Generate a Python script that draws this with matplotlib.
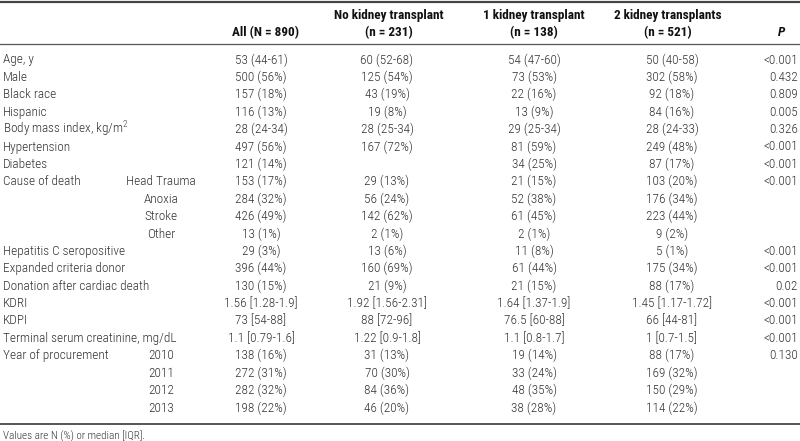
import matplotlib
matplotlib.use("Agg")
import matplotlib.pyplot as plt

plt.rcParams['font.family'] = ['Roboto Condensed', 'DejaVu Sans']
plt.rcParams['mathtext.default'] = 'regular'

# table content
row_labels = ['Age, y', 'Male', 'Black race', 'Hispanic', 'Body mass index, kg/m$^2$',
              'Hypertension', 'Diabetes', 'Cause of death', '', '', '',
              'Hepatitis C seropositive', 'Expanded criteria donor',
              'Donation after cardiac death', 'KDRI', 'KDPI',
              'Terminal serum creatinine, mg/dL', 'Year of procurement', '', '', '']
sub_labels = ['', '', '', '', '', '', '', 'Head Trauma', 'Anoxia', 'Stroke', 'Other',
              '', '', '', '', '', '', '2010', '2011', '2012', '2013']
col_all = ['53 (44-61)', '500 (56%)', '157 (18%)', '116 (13%)', '28 (24-34)', '497 (56%)',
           '121 (14%)', '153 (17%)', '284 (32%)', '426 (49%)', '13 (1%)', '29 (3%)',
           '396 (44%)', '130 (15%)', '1.56 [1.28-1.9]', '73 [54-88]', '1.1 [0.79-1.6]',
           '138 (16%)', '272 (31%)', '282 (32%)', '198 (22%)']
col_none = ['60 (52-68)', '125 (54%)', '43 (19%)', '19 (8%)', '28 (25-34)', '167 (72%)',
            '', '29 (13%)', '56 (24%)', '142 (62%)', '2 (1%)', '13 (6%)',
            '160 (69%)', '21 (9%)', '1.92 [1.56-2.31]', '88 [72-96]', '1.22 [0.9-1.8]',
            '31 (13%)', '70 (30%)', '84 (36%)', '46 (20%)']
col_one = ['54 (47-60)', '73 (53%)', '22 (16%)', '13 (9%)', '29 (25-34)', '81 (59%)',
           '34 (25%)', '21 (15%)', '52 (38%)', '61 (45%)', '2 (1%)', '11 (8%)',
           '61 (44%)', '21 (15%)', '1.64 [1.37-1.9]', '76.5 [60-88]', '1.1 [0.8-1.7]',
           '19 (14%)', '33 (24%)', '48 (35%)', '38 (28%)']
col_two = ['50 (40-58)', '302 (58%)', '92 (18%)', '84 (16%)', '28 (24-33)', '249 (48%)',
           '87 (17%)', '103 (20%)', '176 (34%)', '223 (44%)', '9 (2%)', '5 (1%)',
           '175 (34%)', '88 (17%)', '1.45 [1.17-1.72]', '66 [44-81]', '1 [0.7-1.5]',
           '88 (17%)', '169 (32%)', '150 (29%)', '114 (22%)']
p_vals = ['<0.001', '0.432', '0.809', '0.005', '0.326', '<0.001', '<0.001', '<0.001',
          '', '', '', '<0.001', '<0.001', '0.02', '<0.001', '<0.001', '<0.001',
          '0.130', '', '', '']
headers = [('All (N = 890)', ''), ('No kidney transplant', '(n = 231)'),
           ('1 kidney transplant', '(n = 138)'), ('2 kidney transplants', '(n = 521)')]
footnote = 'Values are N (%) or median [IQR].'

W, H = 800, 441
fig = plt.figure(figsize=(W / 100, H / 100), dpi=100)
ax = fig.add_axes([0, 0, 1, 1])
ax.set_xlim(0, W)
ax.set_ylim(H, 0)
ax.axis('off')

fs = 9.5
txt = '#333333'
col_x = [261, 387, 534, 672]
head_x = [265, 389, 534, 668]
p_x = 798
sub_x = 161
y0, dy = 60, 17.4

# rules
ax.plot([0, W], [1.5, 1.5], color='#444444', lw=1.6)
ax.plot([0, W], [43.5, 43.5], color='#555555', lw=0.9)
ax.plot([0, W], [423.5, 423.5], color='#555555', lw=1.4)

# header
hkw = dict(ha='center', va='center', fontsize=fs, fontweight='bold', color='#111111')
for (h1, h2), x in zip(headers, head_x):
    if h2:
        ax.text(x, 15, h1, **hkw)
        ax.text(x, 33, h2, **hkw)
    else:
        ax.text(x, 33, h1, **hkw)
ax.text(782, 33, 'P', style='italic', **hkw)

# body
bkw = dict(va='center', fontsize=fs, fontweight='light', color=txt)
for i in range(len(row_labels)):
    y = y0 + dy * i
    if row_labels[i]:
        ax.text(3, y, row_labels[i], ha='left', **bkw)
    if sub_labels[i]:
        ax.text(sub_x, y, sub_labels[i], ha='center', **bkw)
    for col, x in zip([col_all, col_none, col_one, col_two], col_x):
        if col[i]:
            ax.text(x, y, col[i], ha='center', **bkw)
    if p_vals[i]:
        ax.text(p_x, y, p_vals[i], ha='right', **bkw)

ax.text(3, 436, footnote, ha='left', va='center', fontsize=fs - 1.5, fontweight='light', color=txt)

fig.savefig('out.png', dpi=100)
